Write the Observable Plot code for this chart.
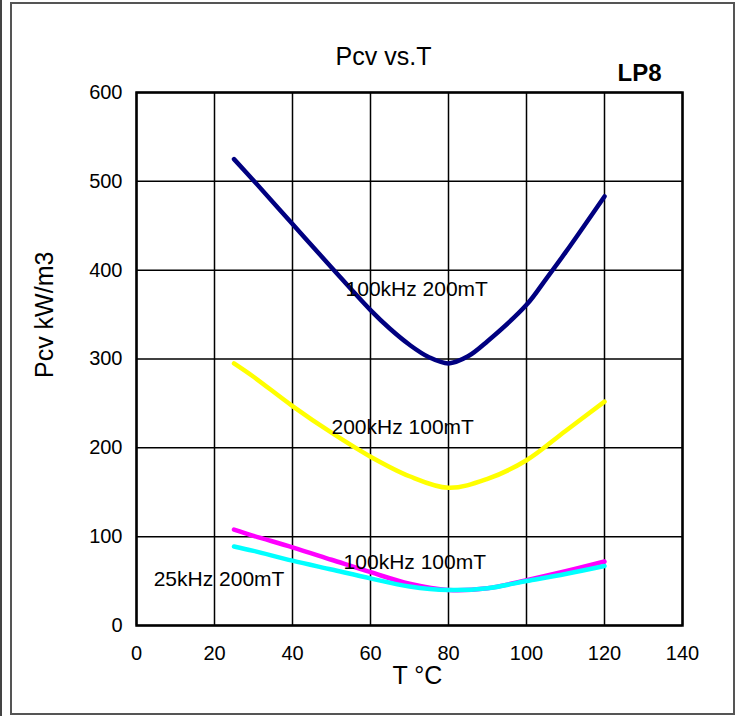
<!DOCTYPE html>
<html><head><meta charset="utf-8">
<script src="https://cdn.jsdelivr.net/npm/d3@7"></script>
<script src="https://cdn.jsdelivr.net/npm/@observablehq/plot@0.6"></script>
<style>
html,body{margin:0;padding:0;background:#fff;}
#wrap{position:relative;width:743px;height:716px;overflow:hidden;background:#fff;}
#edge{position:absolute;left:0;top:0;width:2px;height:716px;background:#444;}
#box{position:absolute;left:10px;top:2px;width:725px;height:713px;border:2px solid #555;box-sizing:border-box;pointer-events:none;}
#chart{position:absolute;left:0;top:0;}
</style></head><body>
<div id="wrap"><div id="chart"></div><div id="edge"></div><div id="box"></div></div>
<script>
// ---- data ----
const titleText = "Pcv vs.T";
const gradeText = "LP8";
const xLabel = "T \u00B0C";
const yLabel = "Pcv kW/m3";
const xTicks = [0, 20, 40, 60, 80, 100, 120, 140];
const yTicks = [0, 100, 200, 300, 400, 500, 600];

const seriesNames = ["100kHz 200mT", "200kHz 100mT", "100kHz 100mT", "25kHz 200mT"];
const seriesColors = ["#000080", "#FFFF00", "#FF00FF", "#00FFFF"];

const tempsA = [25, 30, 40, 50, 60, 65, 70, 75, 80, 85, 90, 100, 105, 110, 120];
const pcv100k200m = [525, 501, 452, 403, 355, 334, 316, 302, 295, 303, 320, 361, 390, 420, 483];

const tempsB = [25, 30, 40, 50, 60, 70, 80, 90, 100, 110, 120];
const pcv200k100m = [295, 280, 247, 217, 190, 168, 155, 165, 186, 219, 252];
const pcv100k100m = [108, 101, 88, 74, 60, 47, 40, 42, 51, 61, 72];
const pcv25k200m  = [89, 84, 73, 63, 53, 44, 40, 42, 50, 58, 67];

// label anchor points (data units)
const labelT = [53.6, 50, 53.1, 4.4];
const labelPcv = [378, 223, 71.5, 52.4];

// ---- build ----
const seriesT = [tempsA, tempsB, tempsB, tempsB];
const seriesP = [pcv100k200m, pcv200k100m, pcv100k100m, pcv25k200m];
const rows = seriesNames.map((name, i) => seriesT[i].map((t, j) => ({series: name, T: t, Pcv: seriesP[i][j]})));
const labels = seriesNames.map((name, i) => ({series: name, T: labelT[i], Pcv: labelPcv[i]}));

const font = "'Liberation Sans', Arial, Helvetica, sans-serif";

const lineMarks = rows.map((r, i) => Plot.line(r, {
  x: "T", y: "Pcv", stroke: seriesColors[i], strokeWidth: 4.5, curve: "catmull-rom"
}));

const chart = Plot.plot({
  width: 743,
  height: 716,
  marginLeft: 136,
  marginRight: 61,
  marginTop: 92,
  marginBottom: 91,
  style: {fontFamily: font, fontSize: "20px", color: "#000", background: "transparent"},
  x: {domain: [0, 140], ticks: xTicks, tickSize: 0, tickPadding: 20, label: null},
  y: {domain: [0, 600], ticks: yTicks, tickSize: 0, tickPadding: 14, label: null},
  marks: [
    Plot.gridX(xTicks, {stroke: "#000", strokeOpacity: 1, strokeWidth: 1.5}),
    Plot.gridY(yTicks, {stroke: "#000", strokeOpacity: 1, strokeWidth: 1.5}),
    Plot.frame({stroke: "#000", strokeWidth: 2.5}),
    Plot.axisX(xTicks, {tickSize: 0, tickPadding: 20, fontSize: 20, label: null}),
    Plot.axisY(yTicks, {tickSize: 0, tickPadding: 14, fontSize: 20, label: null}),
    ...lineMarks,
    Plot.text(labels, {x: "T", y: "Pcv", text: "series", textAnchor: "start", fontSize: 21, fill: "#000"}),
    Plot.text([titleText], {frameAnchor: "top", text: d => d, dx: -26, dy: -45, fontSize: 25, fill: "#000"}),
    Plot.text([gradeText], {frameAnchor: "top", text: d => d, dx: 230, dy: -29, fontSize: 24, fontWeight: "bold", fill: "#000"}),
    Plot.text([xLabel], {frameAnchor: "bottom", text: d => d, dx: 8, dy: 58, fontSize: 25, fill: "#000"}),
    Plot.text([yLabel], {frameAnchor: "left", text: d => d, dx: -92, dy: 19, rotate: -90, fontSize: 25, fill: "#000"})
  ]
});
document.getElementById("chart").appendChild(chart);
</script>
</body></html>
